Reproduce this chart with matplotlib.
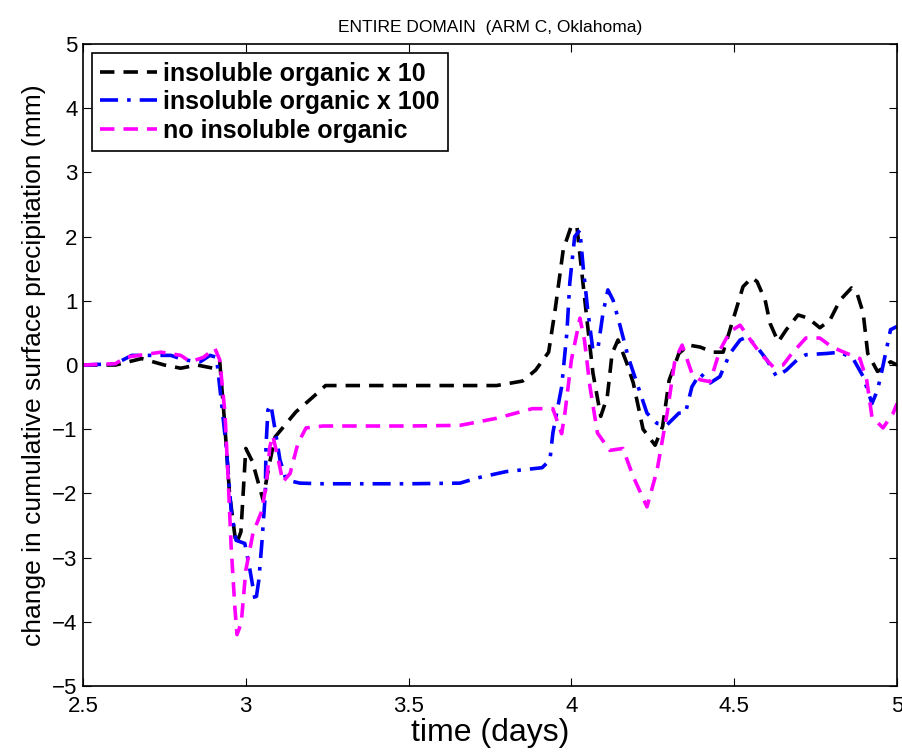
import matplotlib
matplotlib.use("Agg")
import matplotlib.pyplot as plt

plt.rcParams['font.family'] = ['Liberation Sans', 'DejaVu Sans']

# insoluble organic x 10
t_x10 = [2.5, 2.6, 2.68, 2.75, 2.8, 2.85, 2.9, 2.92, 2.935, 2.95, 2.97, 2.985, 3.0,
         3.02, 3.053, 3.07, 3.09, 3.154, 3.206, 3.245, 3.3, 3.5, 3.77, 3.85, 3.89, 3.93,
         3.95, 3.975, 4.0, 4.017, 4.03, 4.05, 4.066, 4.09, 4.11, 4.125, 4.143, 4.17,
         4.19, 4.22, 4.257, 4.28, 4.30, 4.33, 4.36, 4.395, 4.435, 4.466, 4.487, 4.508,
         4.527, 4.554, 4.57, 4.595, 4.61, 4.635, 4.66, 4.696, 4.727, 4.763, 4.794,
         4.825, 4.86, 4.877, 4.896, 4.91, 4.94, 4.957, 4.98, 5.0]
v_x10 = [0.0, 0.0, 0.1, 0.0, -0.05, 0.0, -0.05, 0.05, -0.9, -2.0, -2.8, -2.6, -1.3,
         -1.5, -2.1, -1.6, -1.12, -0.73, -0.5, -0.32, -0.32, -0.32, -0.32, -0.25, -0.08, 0.2,
         0.86, 1.8, 2.17, 2.15, 1.53, 0.6, -0.12, -0.8, -0.5, 0.18, 0.39, 0.03,
         -0.28, -1.0, -1.25, -0.96, -0.24, 0.18, 0.31, 0.28, 0.2, 0.2, 0.55, 0.9,
         1.22, 1.36, 1.3, 1.01, 0.65, 0.36, 0.55, 0.78, 0.73, 0.58, 0.7,
         1.01, 1.2, 1.12, 0.81, 0.18, -0.1, -0.05, 0.05, 0.0]

# insoluble organic x 100
t_x100 = [2.5, 2.6, 2.65, 2.70, 2.77, 2.81, 2.86, 2.89, 2.91, 2.92, 2.94, 2.955, 2.97,
          2.997, 3.013, 3.03, 3.04, 3.05, 3.06, 3.062, 3.068, 3.077, 3.09, 3.105, 3.124,
          3.166, 3.237, 3.5, 3.658, 3.71, 3.80, 3.91, 3.934, 3.943, 3.97, 3.986, 3.995,
          4.01, 4.026, 4.036, 4.05, 4.066, 4.082, 4.097, 4.112, 4.128, 4.15, 4.174,
          4.205, 4.232, 4.263, 4.294, 4.33, 4.35, 4.37, 4.395, 4.426, 4.456, 4.487,
          4.518, 4.54, 4.57, 4.60, 4.63, 4.66, 4.693, 4.72, 4.785, 4.825, 4.865, 4.896,
          4.923, 4.94, 4.954, 4.98, 5.0]
v_x100 = [0.0, 0.02, 0.15, 0.15, 0.15, 0.08, 0.05, 0.15, 0.12, -0.34, -1.28, -2.26, -2.73,
          -2.78, -3.2, -3.7, -3.35, -2.73, -2.0, -1.27, -0.7, -0.62, -1.01, -1.48, -1.79,
          -1.84, -1.85, -1.85, -1.84, -1.76, -1.66, -1.6, -1.48, -1.06, -0.34, 0.5, 1.28,
          2.0, 2.1, 1.53, 0.86, 0.23, 0.28, 0.81, 1.17, 1.01, 0.6, 0.13,
          -0.34, -0.75, -0.91, -0.93, -0.75, -0.75, -0.34, -0.13, -0.28, -0.18, 0.18,
          0.39, 0.44, 0.28, 0.08, -0.18, -0.08, 0.08, 0.16, 0.18, 0.2, 0.1, -0.18,
          -0.6, -0.39, -0.08, 0.55, 0.6]

# no insoluble organic
t_none = [2.5, 2.6, 2.63, 2.74, 2.8, 2.83, 2.87, 2.905, 2.92, 2.936, 2.946, 2.955, 2.967,
          2.973, 2.986, 3.0, 3.022, 3.047, 3.062, 3.074, 3.083, 3.1, 3.114, 3.136, 3.16,
          3.185, 3.237, 3.5, 3.658, 3.77, 3.88, 3.943, 3.97, 3.98, 4.0, 4.017, 4.026,
          4.04, 4.057, 4.08, 4.118, 4.158, 4.19, 4.232, 4.263, 4.294, 4.318, 4.34,
          4.37, 4.395, 4.426, 4.456, 4.487, 4.518, 4.55, 4.58, 4.62, 4.65, 4.677,
          4.72, 4.763, 4.80, 4.846, 4.886, 4.907, 4.923, 4.957, 4.988, 5.0]
v_none = [0.0, 0.02, 0.12, 0.2, 0.15, 0.05, 0.12, 0.26, 0.08, -0.75, -1.79, -2.83, -3.82,
          -4.2, -4.02, -3.2, -2.62, -2.3, -1.9, -1.27, -1.1, -1.48, -1.82, -1.69, -1.22,
          -0.98, -0.95, -0.95, -0.94, -0.83, -0.68, -0.68, -1.07, -0.75, 0.08, 0.5, 0.73,
          0.39, -0.34, -1.06, -1.33, -1.3, -1.74, -2.21, -1.64, -0.75, 0.08, 0.31,
          -0.13, -0.23, -0.26, 0.23, 0.52, 0.62, 0.39, 0.18, -0.03, 0.0, 0.18,
          0.42, 0.42, 0.28, 0.18, 0.1, -0.24, -0.81, -0.98, -0.75, -0.6]

fig = plt.figure(figsize=(9.02, 7.55), dpi=100)
ax = fig.add_axes([0.092, 0.0914, 0.9025, 0.8503])

ax.plot(t_x10, v_x10, color='black', lw=2.6, dashes=(4, 2.5), label='insoluble organic x 10')
ax.plot(t_x100, v_x100, color='blue', lw=2.6, dashes=(5, 2.5, 1, 2.5), label='insoluble organic x 100')
ax.plot(t_none, v_none, color='magenta', lw=2.6, dashes=(4, 2.5), label='no insoluble organic')

ax.set_xlim(2.5, 5)
ax.set_ylim(-5, 5)
ax.set_xticks([2.5, 3, 3.5, 4, 4.5, 5])
ax.set_xticklabels(['2.5', '3', '3.5', '4', '4.5', '5'])
ax.set_yticks(range(-5, 6))
ax.tick_params(direction='in', top=True, right=True, labelsize=16, length=6)
ax.tick_params(axis='x', pad=7)
ax.tick_params(axis='y', pad=4)
for s in ax.spines.values():
    s.set_linewidth(1.2)

ax.set_xlabel('time (days)', fontsize=23, labelpad=1)
ax.set_ylabel('change in cumulative surface precipitation (mm)', fontsize=19, labelpad=4)
ax.set_title('ENTIRE DOMAIN  (ARM C, Oklahoma)', fontsize=12.5, pad=9)

leg = ax.legend(loc='upper left', prop={'weight': 'bold', 'size': 18}, fancybox=False,
                edgecolor='black', framealpha=1, handlelength=2.25, handletextpad=0.25,
                borderaxespad=0.35, borderpad=0.35, labelspacing=0.18)
leg.get_frame().set_linewidth(1.2)

fig.savefig('out.png', dpi=100)
